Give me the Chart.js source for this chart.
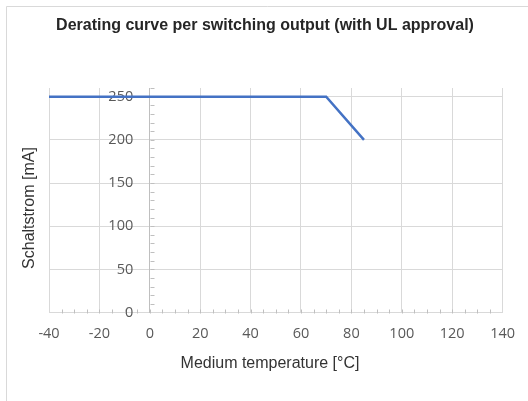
<!DOCTYPE html>
<html>
<head>
<meta charset="utf-8">
<script src="https://cdn.jsdelivr.net/npm/chart.js@4/dist/chart.umd.min.js"></script>
<style>
  body { margin: 0; background: #fff; }
  canvas { display: block; }
</style>
</head>
<body>
<canvas id="derating" width="528" height="401"></canvas>
<script>
// data
const tempC = [-40, 70, 85];
const currentMA = [250, 250, 200];

const xTicks = [-40, -20, 0, 20, 40, 60, 80, 100, 120, 140];
const yTicks = [0, 50, 100, 150, 200, 250];
const xMin = -40, xMax = 140, xMinorStep = 5;
const yMin = 0, yMax = 260, yMinorStep = 10;

const chartTitle = 'Derating curve per switching output (with UL approval)';
const xTitle = 'Medium temperature [°C]';
const yTitle = 'Schaltstrom [mA]';

const gridColor = '#d9d9d9';
const tickFont = { family: 'Open Sans', size: 14.5 };

// white background + excel style frame (only left/top visible)
const frame = {
  id: 'frame',
  beforeDraw(chart) {
    const c = chart.ctx;
    c.save();
    c.fillStyle = '#fff';
    c.fillRect(0, 0, chart.width, chart.height);
    c.strokeStyle = gridColor;
    c.lineWidth = 1;
    c.beginPath();
    c.moveTo(6.5, chart.height);
    c.lineTo(6.5, 6.5);
    c.lineTo(chart.width, 6.5);
    c.stroke();
    c.restore();
  }
};

// minor tick marks on both axes, drawn inside the plot
const minorTicks = {
  id: 'minorTicks',
  beforeDatasetsDraw(chart) {
    const c = chart.ctx;
    const xs = chart.scales.x, ys = chart.scales.y;
    const x0 = Math.round(xs.getPixelForValue(0)) + 0.5;
    const y0 = Math.round(ys.getPixelForValue(0)) + 0.5;
    c.save();
    c.strokeStyle = '#bfbfbf';
    c.lineWidth = 1;
    c.beginPath();
    for (let v = yMin + yMinorStep; v <= yMax; v += yMinorStep) {
      const py = Math.round(ys.getPixelForValue(v)) + 0.5;
      c.moveTo(x0, py);
      c.lineTo(x0 + 4, py);
    }
    for (let v = xMin + xMinorStep; v < xMax; v += xMinorStep) {
      const px = Math.round(xs.getPixelForValue(v)) + 0.5;
      c.moveTo(px, y0);
      c.lineTo(px, y0 - 4);
    }
    c.stroke();
    c.restore();
  }
};

// chart + axis titles placed like in the excel export
const titles = {
  id: 'titles',
  afterDraw(chart) {
    const c = chart.ctx;
    c.save();
    c.textAlign = 'center';
    c.textBaseline = 'middle';
    c.fillStyle = '#262626';
    c.font = 'bold 16px "Liberation Sans"';
    c.fillText(chartTitle, 265, 26);
    c.fillStyle = '#333';
    c.font = '16px "Liberation Sans"';
    c.fillText(xTitle, 270, 364);
    c.translate(30, 208);
    c.rotate(-Math.PI / 2);
    c.fillText(yTitle, 0, 0);
    c.restore();
  }
};

const ctx = document.getElementById('derating').getContext('2d');
const chart = new Chart(ctx, {
  type: 'scatter',
  data: {
    datasets: [{
      data: tempC.map((t, i) => ({ x: t, y: currentMA[i] })),
      showLine: true,
      borderColor: '#4472C4',
      borderWidth: 2.5,
      pointRadius: 0,
      tension: 0
    }]
  },
  options: {
    responsive: false,
    animation: false,
    layout: { padding: { left: 49, right: 19, top: 88, bottom: 45 } },
    plugins: {
      legend: { display: false },
      tooltip: { enabled: false },
      title: { display: false }
    },
    scales: {
      x: {
        type: 'linear',
        position: 'bottom',
        min: xMin,
        max: xMax,
        afterBuildTicks: s => { s.ticks = xTicks.map(v => ({ value: v })); },
        grid: { color: gridColor, lineWidth: 1, drawTicks: false },
        border: { color: gridColor },
        ticks: { color: '#595959', font: tickFont, padding: 13, maxRotation: 0 }
      },
      y: {
        type: 'linear',
        position: { x: 0 },
        min: yMin,
        max: yMax,
        afterBuildTicks: s => { s.ticks = yTicks.map(v => ({ value: v })); },
        grid: { color: gridColor, lineWidth: 1, drawTicks: false },
        border: { color: '#bfbfbf' },
        // labels sit left of the axis, keep a gap like the original
        ticks: { color: '#595959', font: tickFont, callback: v => v + '\u2007\u2007' }
      }
    }
  },
  plugins: [frame, minorTicks, titles]
});
</script>
</body>
</html>
